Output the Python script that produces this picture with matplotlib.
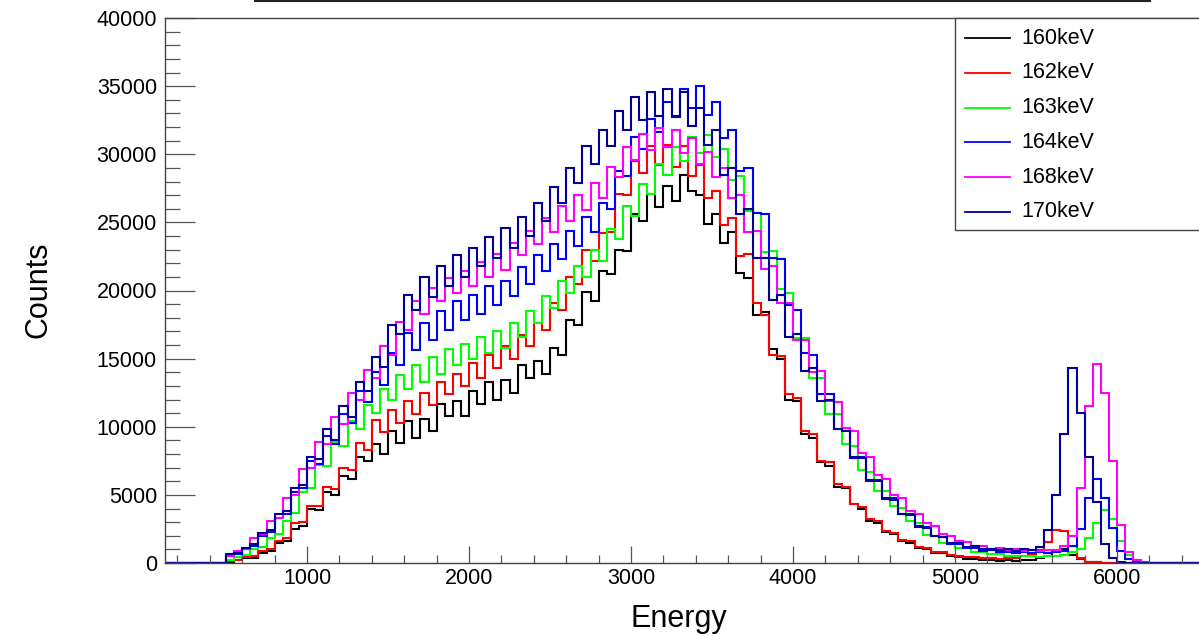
import numpy as np
import matplotlib
matplotlib.use("Agg")
import matplotlib.pyplot as plt
from matplotlib.lines import Line2D
from matplotlib.ticker import MultipleLocator
import matplotlib.patches as patches

plt.rcParams["font.family"] = ["Liberation Sans", "DejaVu Sans"]

# [DATA]
# counts per 50-wide energy bin, in thousands, first bin starts at 500
bin_start = 500
bin_width = 50

counts_160 = [
    0.1, 0.2, 0.35, 0.4, 0.7, 0.85, 1.5, 1.6, 2.5, 2.7,
    4.0, 3.9, 5.2, 5.0, 6.4, 6.2, 7.8, 7.5, 8.7, 8.0,
    9.7, 8.8, 10.4, 9.2, 10.6, 9.7, 11.7, 10.8, 11.9, 10.8,
    12.6, 11.7, 13.3, 12.0, 13.4, 12.5, 14.5, 13.6, 14.8, 13.9,
    15.8, 15.3, 17.8, 17.5, 19.9, 19.2, 21.4, 21.2, 23.0, 22.9,
    25.6, 25.1, 27.1, 26.1, 27.7, 26.6, 28.5, 27.3, 27.0, 24.9,
    25.6, 23.5, 24.3, 21.3, 20.9, 18.2, 18.4, 15.7, 15.0, 12.0,
    11.9, 9.5, 9.2, 7.4, 7.1, 5.6, 5.5, 4.3, 4.0, 3.1,
    2.95, 2.3, 2.1, 1.6, 1.45, 1.1, 1.05, 0.75, 0.7, 0.48,
    0.42, 0.32, 0.3, 0.22, 0.22, 0.17, 0.2, 0.18, 0.22, 0.25,
    0.38, 0.55, 0.95, 1.05, 0.6, 0.3, 0.1, 0.06, 0.03, 0.01,
    0, 0, 0, 0, 0, 0,
]
counts_162 = [
    0.15, 0.25, 0.45, 0.55, 0.9, 1.0, 1.6, 1.8, 2.9, 3.0,
    4.2, 4.2, 5.6, 5.4, 7.0, 6.8, 8.8, 8.3, 10.5, 9.6,
    11.2, 10.3, 11.9, 10.9, 12.5, 11.6, 13.3, 12.4, 13.9, 13.0,
    14.7, 13.6, 15.3, 14.3, 15.9, 15.0, 16.7, 15.9, 17.6, 17.1,
    19.1, 18.6, 21.0, 20.5, 23.0, 22.2, 24.2, 24.3, 27.1, 27.0,
    29.5, 28.6, 30.6, 29.2, 30.7, 29.1, 30.6, 28.4, 29.2, 26.8,
    27.3, 24.8, 25.3, 22.5, 22.7, 19.1, 18.2, 15.3, 15.2, 12.4,
    12.1, 9.7, 9.5, 7.5, 7.4, 5.8, 5.6, 4.3, 4.1, 3.2,
    3.05, 2.35, 2.2, 1.7, 1.6, 1.15, 1.12, 0.82, 0.8, 0.56,
    0.53, 0.42, 0.42, 0.35, 0.37, 0.33, 0.37, 0.4, 0.53, 0.68,
    0.95, 1.55, 2.4, 2.35, 1.25, 0.4, 0.1, 0.05, 0.02, 0.01,
    0, 0, 0, 0, 0, 0,
]
counts_163 = [
    0.2, 0.45, 0.6, 1.0, 1.15, 1.8, 2.1, 3.1, 3.7, 5.2,
    5.5, 7.2, 7.1, 8.9, 8.6, 10.4, 9.8, 11.6, 11.0, 12.8,
    12.0, 13.8, 12.8, 14.5, 13.3, 15.1, 13.9, 15.7, 14.5, 16.1,
    15.0, 16.6, 15.4, 17.0, 15.8, 17.6, 16.6, 18.5, 17.6, 19.6,
    18.7, 20.7, 19.8, 21.8, 21.0, 23.0, 22.2, 24.5, 23.8, 26.2,
    25.5, 27.8, 27.1, 29.3, 28.5, 30.5, 29.5, 31.3, 30.1, 31.4,
    29.8, 30.4, 28.1, 28.4, 25.8, 25.7, 22.8, 22.9, 20.1, 19.8,
    16.5, 16.5, 13.6, 13.6, 10.9, 10.9, 8.7, 8.6, 6.8, 6.7,
    5.3, 5.25, 4.15, 4.05, 3.1, 2.9, 2.05, 2.0, 1.5, 1.47,
    1.12, 1.1, 0.84, 0.84, 0.66, 0.65, 0.52, 0.55, 0.48, 0.49,
    0.43, 0.49, 0.48, 0.62, 0.8, 1.05, 1.8, 2.9, 3.9, 3.25,
    1.6, 0.6, 0.15, 0.05, 0.02, 0,
]
counts_164 = [
    0.55, 0.65, 1.0, 1.25, 2.0, 2.25, 3.3, 3.6, 5.2, 5.5,
    7.5, 7.3, 9.3, 8.7, 10.9, 10.3, 12.6, 11.8, 14.0, 13.1,
    15.4, 14.5, 16.9, 15.6, 17.6, 16.4, 18.5, 17.1, 19.2, 17.8,
    19.7, 18.3, 20.3, 18.9, 20.7, 19.6, 21.7, 20.5, 22.6, 21.4,
    23.4, 22.3, 24.4, 23.3, 25.4, 24.3, 26.4, 26.0, 28.8, 28.4,
    31.3, 30.4, 32.6, 31.6, 33.8, 32.7, 34.8, 33.4, 35.0, 32.9,
    33.8, 31.2, 31.8, 28.8, 29.0, 25.7, 25.6, 22.4, 22.3, 18.9,
    18.6, 15.4, 15.3, 12.4, 12.4, 9.8, 9.9, 7.7, 7.8, 6.0,
    6.1, 4.7, 4.8, 3.6, 3.6, 2.7, 2.65, 1.95, 1.9, 1.4,
    1.38, 1.08, 1.12, 0.9, 0.95, 0.8, 0.84, 0.72, 0.78, 0.72,
    0.78, 0.74, 0.83, 0.88, 1.25, 2.5, 4.8, 6.2, 4.8, 2.6,
    0.9, 0.3, 0.1, 0.03, 0.01, 0,
]
counts_168 = [
    0.5, 0.85, 1.05, 1.8, 2.1, 3.1, 3.3, 4.8, 5.0, 6.9,
    7.0, 8.9, 8.7, 10.7, 10.2, 12.5, 12.0, 14.2, 13.6, 15.9,
    15.3, 17.7, 17.1, 19.2, 18.3, 20.2, 19.2, 20.9, 19.8, 21.4,
    20.3, 22.1, 21.0, 22.7, 21.5, 23.5, 22.6, 24.4, 23.4, 25.3,
    24.3, 26.2, 25.1, 27.0, 25.9, 27.9, 26.8, 29.1, 28.3, 30.5,
    29.6, 31.5, 30.3, 31.9, 30.5, 31.8, 30.1, 31.2, 29.3, 30.2,
    28.3, 29.0, 26.8, 27.0, 24.3, 24.4, 21.6, 21.8, 19.1, 19.1,
    16.4, 16.4, 14.0, 14.1, 11.9, 11.8, 9.9, 9.7, 8.1, 7.8,
    6.45, 6.15, 5.0, 4.75, 3.85, 3.6, 2.9, 2.7, 2.1, 2.0,
    1.62, 1.56, 1.24, 1.25, 1.05, 1.09, 0.96, 1.01, 0.91, 0.95,
    0.86, 0.98, 0.97, 1.25, 2.0, 5.5, 11.5, 14.6, 12.5, 7.5,
    2.8, 0.8, 0.2, 0.05, 0.01, 0,
]
counts_170 = [
    0.65, 0.75, 1.1, 1.4, 2.2, 2.4, 3.6, 3.8, 5.5, 5.7,
    7.8, 7.6, 9.8, 9.0, 11.5, 10.7, 13.3, 12.6, 15.1, 14.4,
    17.5, 16.8, 19.7, 18.6, 21.0, 19.5, 21.8, 20.3, 22.6, 21.0,
    23.1, 21.8, 23.9, 22.4, 24.6, 23.1, 25.4, 24.0, 26.4, 25.1,
    27.6, 26.4, 29.0, 27.9, 30.6, 29.3, 31.8, 30.6, 33.2, 31.8,
    34.2, 32.5, 34.6, 32.8, 34.8, 32.8, 34.6, 32.1, 33.4, 30.7,
    31.8, 28.5, 29.0, 25.6, 26.0, 22.4, 22.4, 19.3, 19.7, 16.6,
    16.8, 14.1, 14.3, 11.9, 12.0, 9.8, 9.7, 7.8, 7.7, 6.1,
    6.0, 4.75, 4.65, 3.6, 3.5, 2.65, 2.55, 1.95, 1.9, 1.5,
    1.48, 1.2, 1.22, 1.02, 1.06, 0.92, 1.0, 0.9, 1.0, 0.98,
    1.2, 2.4, 5.0, 9.5, 14.3, 11.0, 7.8, 4.5, 1.4, 0.4,
    0.05, 0.01, 0, 0, 0, 0,
]

series = [counts_160, counts_162, counts_163, counts_164, counts_168, counts_170]
labels = ["160keV", "162keV", "163keV", "164keV", "168keV", "170keV"]
colors = ["#000000", "#ff0000", "#00ff00", "#0000ff", "#ff00ff", "#000099"]

# [CONSTANTS]
W, H = 1199, 636
x_lo, x_hi = 123, 6506
y_hi = 40000


# [HELPER]
def draw_histograms(ax):
    for vals, color in zip(series, colors):
        vals = np.asarray(vals, dtype=float) * 1000
        edges = bin_start + bin_width * np.arange(len(vals) + 1)
        # empty bins on both sides so the line runs along zero to the frame
        edges = np.concatenate([[x_lo], edges, [x_hi + 300]])
        vals = np.concatenate([[0.0], vals, [0.0]])
        ax.stairs(vals, edges, color=color, linewidth=1.5, baseline=None)


def draw_legend(fig):
    box = patches.Rectangle(
        (955 / W, 1 - 230 / H), 0.3, (230 - 18) / H,
        transform=fig.transFigure, facecolor="white", edgecolor="#444444",
        linewidth=1.0, zorder=5,
    )
    fig.add_artist(box)
    for i, (lab, col) in enumerate(zip(labels, colors)):
        y = 1 - (38 + 34.8 * i) / H
        fig.add_artist(Line2D([965 / W, 1010 / W], [y, y], transform=fig.transFigure,
                              color=col, linewidth=1.3, zorder=6))
        fig.text(1021 / W, y, lab, fontsize=15.5, va="center", ha="left", zorder=6)


if __name__ == "__main__":
    fig = plt.figure(figsize=(W / 100, H / 100), dpi=100)
    ax = fig.add_axes([165 / W, 1 - 563 / H, (W - 165) / W, (563 - 18) / H])

    draw_histograms(ax)

    ax.set_xlim(x_lo, x_hi)
    ax.set_ylim(0, y_hi)
    ax.xaxis.set_major_locator(MultipleLocator(1000))
    ax.xaxis.set_minor_locator(MultipleLocator(200))
    ax.yaxis.set_major_locator(MultipleLocator(5000))
    ax.yaxis.set_minor_locator(MultipleLocator(1000))

    ax.tick_params(axis="both", which="both", direction="in", color="#555555",
                   width=0.9, labelsize=15.5, top=False, right=False)
    ax.tick_params(axis="x", which="major", length=12.2, pad=3.6)
    ax.tick_params(axis="x", which="minor", length=6.1)
    ax.tick_params(axis="y", which="major", length=21.6, pad=5.8)
    ax.tick_params(axis="y", which="minor", length=10.8)

    ax.spines["right"].set_visible(False)
    for side in ["left", "bottom", "top"]:
        ax.spines[side].set_color("#444444")
        ax.spines[side].set_linewidth(1.0)

    fig.text(679 / W, 1 - 627 / H, "Energy", fontsize=22, ha="center", va="baseline")
    fig.text(39 / W, 1 - 290 / H, "Counts", fontsize=22, rotation=90,
             ha="center", va="center")

    draw_legend(fig)

    # strip of a cut-off element above the frame
    fig.add_artist(Line2D([255 / W, 1150 / W], [1 - 1 / H, 1 - 1 / H],
                          transform=fig.transFigure, color="#222222", linewidth=1.5))

    fig.savefig("out.png", dpi=100)
